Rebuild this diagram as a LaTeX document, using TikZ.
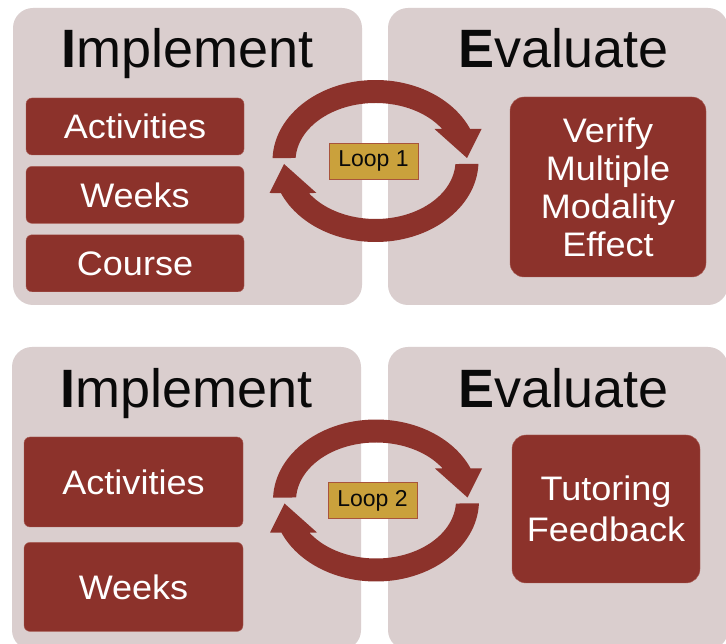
\documentclass[tikz,border=0pt]{standalone}
\usepackage{fontspec}
\setmainfont{Liberation Sans}
\newfontfamily\boxfont{Liberation Sans}[FakeStretch=1.06]
\usetikzlibrary{positioning}
\definecolor{panelbg}{RGB}{218,206,206}
\definecolor{brick}{RGB}{140,50,43}
\definecolor{brickedge}{RGB}{170,95,88}
\definecolor{gold}{RGB}{202,161,60}
\definecolor{tagedge}{RGB}{168,84,60}
\definecolor{ink}{RGB}{10,10,10}
\tikzset{
  panel/.style={fill=panelbg, rounded corners=20pt, minimum width=349pt,
                minimum height=297pt, inner sep=0pt},
  title/.style={font=\fontsize{54}{54}\selectfont, text=ink, anchor=base, inner sep=0pt},
  item/.style={fill=brick, draw=brickedge, thin, rounded corners=6pt, text=white,
               font=\boxfont\fontsize{34}{38}\selectfont, align=center,
               minimum width=218pt, inner sep=0pt},
  tag/.style={fill=gold, draw=tagedge, thin, text=ink, font=\fontsize{23}{23}\selectfont,
              minimum width=89pt, minimum height=36pt, inner sep=0pt},
}
% two curved arrows chasing each other round an ellipse
\newcommand{\cyclearrows}[1]{%
  \begin{scope}[shift={(#1)}]
    \foreach \r in {0,180}
      \fill[brick, rotate=\r]
        (178:103pt and 81pt)
        arc[start angle=178, end angle=23.3, x radius=103pt, y radius=81pt]
        -- (106pt,32pt) -- (91.5pt,3pt) -- (59pt,32pt)
        -- (33.5:80pt and 58pt)
        arc[start angle=33.5, end angle=177, x radius=80pt, y radius=58pt]
        -- cycle;
  \end{scope}}

\begin{document}
\begin{tikzpicture}[x=1pt, y=1pt]
  \useasboundingbox (0,0) rectangle (726,643);
  \clip (0,0) rectangle (726,643);
  \fill[white] (0,0) rectangle (726,643);

  % first cycle
  \node[panel] (implA) at (187.5,486.5) {};
  \node[panel, minimum width=340pt] (evalA) at (558,486.5) {};
  \node[title] (implAt) at (187.5,575) {\textbf{I}mplement};
  \node[title] (evalAt) at (563.5,575) {\textbf{E}valuate};

  \node[item, minimum height=57pt] (actA) at (135,516.5) {Activities};
  \node[item, minimum height=57pt, below=11pt of actA] (weekA) {Weeks};
  \node[item, minimum height=57pt, below=11pt of weekA] (courseA) {Course};
  \node[item, rounded corners=14pt, minimum width=196pt, minimum height=180pt]
    (verify) at (608,456) {Verify\\Multiple\\Modality\\Effect};

  \coordinate (ringA) at (375.5,482);
  \cyclearrows{ringA}
  \node[tag] (loopA) at (373.5,482) {Loop 1};

  % second cycle
  \node[panel, minimum height=303pt] (implB) at (186.5,144.5) {};
  \node[panel, minimum width=340pt, minimum height=303pt] (evalB) at (558,144.5) {};
  \node[title] (implBt) at (186.5,235) {\textbf{I}mplement};
  \node[title] (evalBt) at (563.5,235) {\textbf{E}valuate};

  \node[item, minimum width=219pt, minimum height=90pt] (actB) at (133.5,161) {Activities};
  \node[item, minimum width=219pt, minimum height=89pt, below=15pt of actB] (weekB) {Weeks};
  \node[item, rounded corners=14pt, minimum width=188pt, minimum height=148pt,
        font=\boxfont\fontsize{34}{41}\selectfont]
    (tutor) at (606,134) {Tutoring\\Feedback};

  \coordinate (ringB) at (376,142.5);
  \cyclearrows{ringB}
  \node[tag] (loopB) at (372.5,142.5) {Loop 2};
\end{tikzpicture}
\end{document}
